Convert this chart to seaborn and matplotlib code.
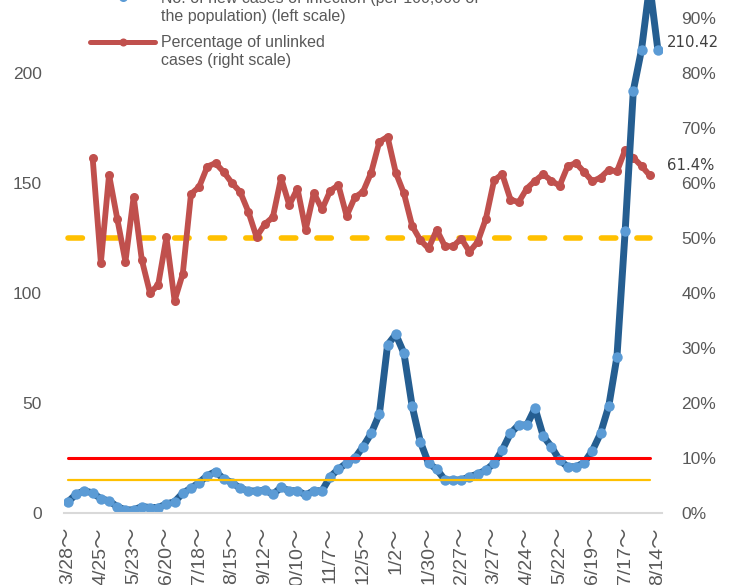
import numpy as np
import pandas as pd
import matplotlib
matplotlib.use('Agg')
import matplotlib.pyplot as plt
from matplotlib.lines import Line2D
from matplotlib.ticker import FuncFormatter
import seaborn as sns

# Weekly data, 3/28 (2020) ~ 8/14 (2021)
week_labels = ['3/28～', '4/25～', '5/23～', '6/20～', '7/18～', '8/15～', '9/12～',
               '10/10～', '11/7～', '12/5～', '1/2～', '1/30～', '2/27～', '3/27～',
               '4/24～', '5/22～', '6/19～', '7/17～', '8/14～']

# new cases per 100,000 (left scale)
new_cases = [5.1, 8.6, 10.1, 9.1, 6.5, 5.5, 2.9, 1.4, 1.4, 2.9,
             2.5, 2.5, 4.1, 5.1, 9.0, 11.3, 13.8, 17.0, 18.8, 15.5,
             13.8, 11.3, 10.0, 10.0, 10.4, 8.5, 11.6, 10.1, 10.1, 8.2,
             10.1, 10.1, 16.5, 19.9, 22.7, 24.9, 30.1, 36.2, 45.0, 76.4,
             81.2, 72.6, 48.6, 32.4, 22.6, 19.9, 15.0, 15.0, 15.0, 16.5,
             17.7, 19.5, 22.6, 28.6, 36.2, 40.0, 40.0, 47.6, 35.0, 30.1,
             24.0, 21.0, 21.0, 22.9, 28.3, 36.2, 48.6, 71.0, 128.0, 192.0,
             210.6, 240.0, 210.42]

# percentage of unlinked cases (right scale)
unlinked_pct = [np.nan, np.nan, np.nan, 64.5, 45.5, 61.5, 53.5, 45.7, 57.5, 46.0,
                40.0, 41.5, 50.1, 38.6, 43.5, 58.0, 59.3, 63.0, 63.6, 62.0,
                60.0, 58.4, 54.8, 50.2, 52.5, 53.8, 60.9, 56.0, 59.0, 51.5,
                58.2, 55.2, 58.6, 59.6, 54.0, 57.4, 58.4, 61.9, 67.5, 68.4,
                61.9, 58.1, 52.2, 49.6, 48.1, 51.5, 48.5, 48.5, 49.9, 47.5,
                49.3, 53.5, 60.5, 61.6, 57.0, 56.5, 59.0, 60.4, 61.6, 60.4,
                59.5, 63.1, 63.6, 62.0, 60.3, 61.0, 62.4, 62.1, 66.0, 64.6,
                63.1, 61.4, np.nan]

stage4_cases = 25
stage3_cases = 15
unlinked_limit = 50

BLUE = '#255E91'
BLUE_DOT = '#5B9BD5'
RED = '#C0504D'
ORANGE = '#FFC000'
GRAY = '#595959'

sns.set_theme(style='white')
plt.rcParams['font.family'] = ['Liberation Sans', 'Noto Sans CJK JP']

df = pd.DataFrame({'week': range(len(new_cases)),
                   'cases': new_cases,
                   'unlinked': unlinked_pct})
span = [df['week'].iloc[0], df['week'].iloc[-2]]

W, H = 739, 585
fig = plt.figure(figsize=(W / 100, H / 100), dpi=100)
ax = fig.add_axes([64 / W, 72 / H, 598 / W, 550 / H])
ax2 = ax.twinx()

# right scale: unlinked share + 50% line
ax2.plot(span, [unlinked_limit] * 2, color=ORANGE, lw=4,
         linestyle=(0, (2.6, 3.8)), dash_capstyle='round')
sns.lineplot(data=df, x='week', y='unlinked', ax=ax2, color=RED, lw=4.2,
             marker='o', markersize=6.5, markeredgewidth=0)

# left scale: new cases + thresholds
sns.lineplot(data=df, x='week', y='cases', ax=ax, color=BLUE, lw=5,
             marker='o', markersize=7.5, markerfacecolor=BLUE_DOT,
             markeredgewidth=0)
ax.plot(span, [stage4_cases] * 2, color='#FF0000', lw=2.2)
ax.plot(span, [stage3_cases] * 2, color=ORANGE, lw=1.6)

ax.set_zorder(ax2.get_zorder() + 1)
ax.patch.set_visible(False)

ax.set_xlim(-0.5, len(new_cases) - 0.5)
ax.set_ylim(0, 250)
ax2.set_ylim(0, 100)
ax.set_xlabel('')
ax.set_ylabel('')
ax2.set_ylabel('')

ax.set_yticks(range(0, 201, 50))
ax2.set_yticks(range(0, 91, 10))
ax2.yaxis.set_major_formatter(FuncFormatter(lambda v, p: f'{v:.0f}%'))
ax.set_xticks(range(0, len(new_cases), 4))
ax.set_xticklabels(week_labels, rotation=90)

ax.tick_params(axis='y', length=0, pad=16, labelsize=12.5, labelcolor=GRAY)
ax2.tick_params(axis='y', length=0, pad=14, labelsize=12.5, labelcolor=GRAY)
ax.tick_params(axis='x', length=0, pad=10, labelsize=14, labelcolor=GRAY)

for a in (ax, ax2):
    for s in a.spines.values():
        s.set_visible(False)
ax.spines['bottom'].set_visible(True)
ax.spines['bottom'].set_color('#D9D9D9')
ax.spines['bottom'].set_linewidth(1.5)

# end-point labels
ax.annotate(f'{new_cases[-1]:.2f}', xy=(df['week'].iloc[-1], new_cases[-1]),
            xytext=(6.7, 5.8), textcoords='offset points', ha='left', va='center',
            fontsize=10.7, color='#404040', family='DejaVu Sans',
            annotation_clip=False)
ax2.annotate(f'{unlinked_pct[-2]:.1f}%', xy=(df['week'].iloc[-2], unlinked_pct[-2]),
             xytext=(12.5, 7.2), textcoords='offset points', ha='left', va='center',
             fontsize=10.7, color='#404040', family='DejaVu Sans',
             annotation_clip=False)

# legend (top left, partly cut off like the original)
def legend_entry(y_px, line_col, dot_col, lw, ms, text, text_y_px):
    y = 1 - y_px / H
    fig.add_artist(Line2D([90 / W, 122.5 / W, 155 / W], [y, y, y],
                          transform=fig.transFigure, color=line_col, lw=lw,
                          marker='o', markevery=[1], markersize=ms,
                          markerfacecolor=dot_col, markeredgewidth=0))
    fig.text(161 / W, 1 - text_y_px / H, text, ha='left', va='center',
             fontsize=11.5, color=GRAY, linespacing=1.25)

legend_entry(-3, BLUE, BLUE_DOT, 3.6, 6.5,
             'No. of new cases of infection (per 100,000 of\nthe population) (left scale)', 7)
legend_entry(42, RED, RED, 3.6, 5.8,
             'Percentage of unlinked\ncases (right scale)', 52)

fig.savefig('out.png', dpi=100)
